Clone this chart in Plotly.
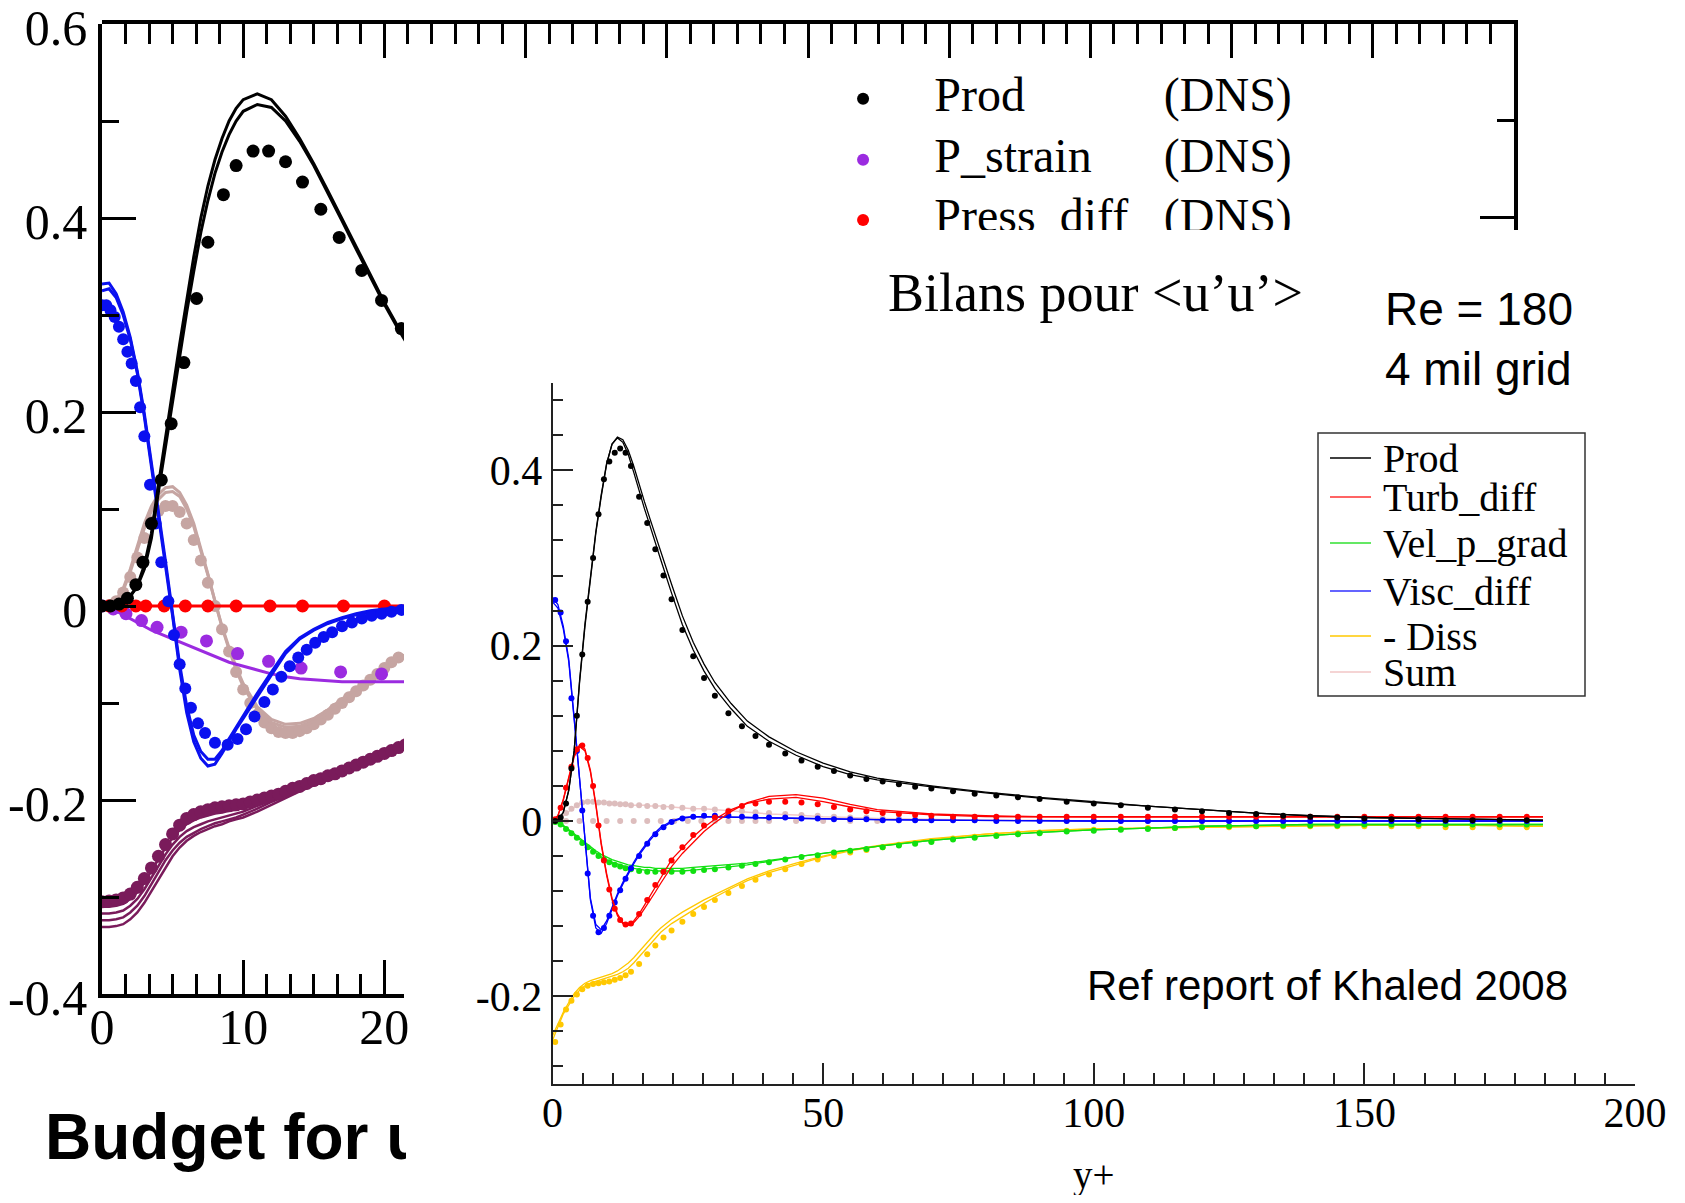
import plotly.graph_objects as go

# page is 1685x1203, the html body adds an 8 px margin
W, H = 1669, 1187
OFF = 8


def fx(px):
    return (px - OFF) / W


def fy(py):
    return 1 - (py - OFF) / H


SERIF = "Liberation Serif"
SANS = "Liberation Sans"

# ---------------- left chart (old DNS/LES budget, only x < 21.4 visible) ----------------
x_l = [0, 0.5, 1, 1.5, 2, 2.5, 3, 3.5, 4, 4.5, 5, 5.5, 6, 6.5, 7, 7.5, 8, 8.5, 9, 9.5, 10,
       11, 12, 13, 14, 15, 16, 17, 18, 19, 20, 21, 22]

prod_les_a = [0, 0, 0.001, 0.004, 0.01, 0.021, 0.042, 0.075, 0.125, 0.175, 0.225, 0.27, 0.315, 0.36, 0.4,
              0.433, 0.46, 0.482, 0.5, 0.513, 0.522, 0.528, 0.522, 0.505, 0.482, 0.456, 0.428, 0.399,
              0.37, 0.341, 0.313, 0.287, 0.263]
prod_les_b = [0, 0, 0.001, 0.004, 0.01, 0.02, 0.038, 0.07, 0.118, 0.165, 0.213, 0.26, 0.303, 0.345, 0.385,
              0.418, 0.446, 0.468, 0.486, 0.5, 0.51, 0.517, 0.514, 0.5, 0.479, 0.454, 0.426, 0.397,
              0.368, 0.339, 0.311, 0.285, 0.261]
prod_dns_x = [0, 0.6, 1.2, 1.8, 2.4, 2.9, 3.5, 4.2, 4.9, 5.8, 6.7, 7.5, 8.6, 9.5, 10.7, 11.8, 13.0,
              14.2, 15.5, 16.8, 18.4, 19.8, 21.2]
prod_dns = [0, 0, 0.002, 0.008, 0.022, 0.045, 0.085, 0.13, 0.188, 0.251, 0.317, 0.375, 0.424, 0.454,
            0.469, 0.469, 0.458, 0.437, 0.409, 0.38, 0.346, 0.315, 0.286]

visc_les_a = [0.325, 0.327, 0.318, 0.3, 0.275, 0.24, 0.195, 0.145, 0.095, 0.045, -0.01, -0.065, -0.11,
              -0.14, -0.157, -0.165, -0.163, -0.152, -0.139, -0.127, -0.116, -0.093, -0.071, -0.049,
              -0.034, -0.025, -0.018, -0.013, -0.009, -0.006, -0.004, -0.002, -0.001]
visc_les_b = [0.332, 0.333, 0.322, 0.303, 0.277, 0.242, 0.198, 0.148, 0.097, 0.046, -0.008, -0.06, -0.103,
              -0.133, -0.15, -0.158, -0.158, -0.149, -0.137, -0.125, -0.113, -0.09, -0.068, -0.047,
              -0.033, -0.024, -0.017, -0.012, -0.008, -0.005, -0.003, -0.002, -0.001]
visc_dns_x = [0, 0.3, 0.6, 0.9, 1.2, 1.5, 1.8, 2.1, 2.4, 2.7, 3.0, 3.4, 3.8, 4.2, 4.7, 5.1, 5.5, 5.9,
              6.3, 6.8, 7.3, 8.0, 8.9, 9.6, 10.2, 10.8, 11.5, 12.1, 12.7, 13.3, 13.9, 14.5, 15.1, 15.7,
              16.3, 17.0, 17.7, 18.4, 19.1, 19.8, 20.5, 21.2]
visc_dns = [0.31, 0.31, 0.305, 0.298, 0.288, 0.275, 0.262, 0.25, 0.232, 0.205, 0.175, 0.125, 0.085,
            0.045, 0.005, -0.03, -0.06, -0.085, -0.105, -0.121, -0.131, -0.141, -0.143, -0.137, -0.127,
            -0.114, -0.099, -0.086, -0.073, -0.062, -0.053, -0.045, -0.038, -0.032, -0.027, -0.021,
            -0.017, -0.013, -0.01, -0.008, -0.006, -0.004]

sum_les_a = [0, 0.001, 0.006, 0.018, 0.038, 0.062, 0.085, 0.103, 0.115, 0.122, 0.123, 0.117, 0.104,
             0.085, 0.06, 0.033, 0.005, -0.022, -0.045, -0.066, -0.083, -0.107, -0.12, -0.125, -0.124,
             -0.119, -0.11, -0.098, -0.087, -0.077, -0.066, -0.055, -0.047]
sum_les_b = [0, 0.001, 0.005, 0.016, 0.035, 0.058, 0.08, 0.098, 0.11, 0.117, 0.118, 0.113, 0.1, 0.082,
             0.058, 0.032, 0.005, -0.021, -0.043, -0.063, -0.08, -0.104, -0.117, -0.122, -0.121, -0.116,
             -0.107, -0.096, -0.085, -0.075, -0.064, -0.054, -0.046]
sum_dns_x = [0, 0.5, 1, 1.5, 2, 2.5, 3, 3.5, 4, 4.5, 5, 5.5, 6, 6.5, 7, 7.5, 8, 8.5, 9, 9.5, 10, 10.5,
             11, 11.5, 12, 12.5, 13, 13.5, 14, 14.5, 15, 15.5, 16, 16.5, 17, 17.5, 18, 18.5, 19, 19.5,
             20, 20.5, 21]
sum_dns = [0, 0.001, 0.005, 0.014, 0.03, 0.05, 0.07, 0.087, 0.098, 0.103, 0.103, 0.097, 0.085, 0.068,
           0.047, 0.024, 0.0, -0.024, -0.047, -0.068, -0.086, -0.1, -0.112, -0.12, -0.126, -0.13, -0.131,
           -0.131, -0.129, -0.126, -0.122, -0.117, -0.112, -0.106, -0.1, -0.094, -0.088, -0.082, -0.076,
           -0.07, -0.064, -0.058, -0.053]

press_les_x = [0, 5, 10, 15, 22]
press_les = [0, 0, 0, 0, 0]
press_dns_x = [0.5, 1.4, 2.4, 3.1, 4.4, 5.9, 7.5, 9.5, 11.9, 14.2, 17.1, 20.0]
press_dns = [0, 0, 0, 0, 0, 0, 0, 0, 0, 0, 0, 0]

pstrain_les = [0, -0.002, -0.005, -0.009, -0.013, -0.017, -0.021, -0.025, -0.028, -0.031, -0.034, -0.037,
               -0.04, -0.043, -0.046, -0.049, -0.052, -0.055, -0.058, -0.06, -0.062, -0.066, -0.07,
               -0.073, -0.075, -0.076, -0.077, -0.078, -0.078, -0.078, -0.078, -0.078, -0.078]
pstrain_dns_x = [0, 0.8, 1.7, 2.8, 3.9, 5.6, 7.4, 9.6, 11.8, 14.1, 16.9, 19.8]
pstrain_dns = [0, -0.003, -0.008, -0.015, -0.022, -0.027, -0.036, -0.049, -0.057, -0.064, -0.068, -0.07]

diss_les_1 = [-0.31, -0.31, -0.309, -0.307, -0.302, -0.295, -0.285, -0.273, -0.26, -0.249, -0.239, -0.231,
              -0.225, -0.221, -0.218, -0.216, -0.214, -0.213, -0.211, -0.21, -0.208, -0.203, -0.198,
              -0.193, -0.187, -0.181, -0.176, -0.17, -0.164, -0.158, -0.152, -0.146, -0.14]
diss_les_2 = [-0.317, -0.317, -0.316, -0.314, -0.309, -0.302, -0.292, -0.28, -0.267, -0.256, -0.246,
              -0.238, -0.232, -0.228, -0.225, -0.222, -0.22, -0.218, -0.216, -0.214, -0.212, -0.206, -0.2,
              -0.194, -0.188, -0.182, -0.177, -0.171, -0.165, -0.159, -0.153, -0.147, -0.141]
diss_les_3 = [-0.324, -0.324, -0.323, -0.321, -0.316, -0.309, -0.299, -0.287, -0.274, -0.262, -0.252,
              -0.244, -0.238, -0.234, -0.23, -0.227, -0.224, -0.222, -0.22, -0.218, -0.215, -0.209,
              -0.202, -0.196, -0.19, -0.184, -0.178, -0.172, -0.166, -0.16, -0.154, -0.148, -0.142]
diss_les_4 = [-0.331, -0.331, -0.33, -0.328, -0.323, -0.316, -0.306, -0.294, -0.281, -0.269, -0.258,
              -0.249, -0.242, -0.237, -0.233, -0.23, -0.227, -0.225, -0.222, -0.22, -0.218, -0.212,
              -0.205, -0.198, -0.191, -0.185, -0.179, -0.173, -0.167, -0.161, -0.155, -0.149, -0.143]
diss_dns_x = [0, 0.5, 1, 1.5, 2, 2.5, 3, 3.5, 4, 4.5, 5, 5.5, 6, 6.5, 7, 7.5, 8, 8.5, 9, 9.5, 10, 10.5,
              11, 11.5, 12, 12.5, 13, 13.5, 14, 14.5, 15, 15.5, 16, 16.5, 17, 17.5, 18, 18.5, 19, 19.5,
              20, 20.5, 21, 21.5]
diss_dns = [-0.305, -0.304, -0.303, -0.301, -0.297, -0.29, -0.281, -0.27, -0.258, -0.246, -0.235, -0.226,
            -0.219, -0.215, -0.212, -0.21, -0.208, -0.207, -0.206, -0.205, -0.204, -0.202, -0.2, -0.198,
            -0.196, -0.194, -0.191, -0.188, -0.186, -0.183, -0.18, -0.178, -0.175, -0.173, -0.17, -0.167,
            -0.164, -0.161, -0.158, -0.155, -0.152, -0.149, -0.146, -0.143]

# legend of the left chart (partly hidden under the right chart)
strip_names = ["Prod", "P_strain", "Press_diff"]
strip_colors = ["#000000", "#9B2BE0", "#FF0000"]
strip_rows = [0.523, 0.460, 0.398]

# ---------------- right chart (Re = 180, 4 mil grid) ----------------
x_r = [0, 1, 2, 3, 4, 5, 6, 7, 8, 9, 10, 11, 12, 13, 14, 15, 16, 17, 18, 19, 20, 22, 24, 26, 28, 30,
       33, 36, 40, 45, 50, 55, 60, 70, 80, 90, 100, 110, 120, 130, 140, 150, 160, 170, 183]
dns_x_r = [0.5, 1.5, 2.5, 3.5, 4.5, 5.5, 6.5, 7.5, 8.5, 9.5, 10.5, 11.5, 12.5, 13.5, 14.5, 16, 17.5, 19,
           20.5, 22, 24, 26, 28, 30, 32.5, 35, 37.5, 40, 43, 46, 49, 52, 55, 58, 61, 64, 67, 70, 74, 78,
           82, 86, 90, 95, 100, 105, 110, 115, 120, 125, 130, 135, 140, 145, 150, 155, 160, 165, 170, 175,
           180]

prod_r_a = [0, 0.001, 0.01, 0.035, 0.08, 0.16, 0.225, 0.28, 0.33, 0.372, 0.408, 0.43, 0.437, 0.432, 0.418,
            0.398, 0.376, 0.356, 0.337, 0.317, 0.298, 0.26, 0.224, 0.195, 0.171, 0.151, 0.128, 0.108,
            0.091, 0.075, 0.062, 0.053, 0.047, 0.039, 0.032, 0.026, 0.021, 0.017, 0.013, 0.009, 0.006,
            0.004, 0.003, 0.002, 0.001]
prod_r_b = [0, 0.001, 0.01, 0.035, 0.08, 0.158, 0.222, 0.278, 0.328, 0.37, 0.407, 0.43, 0.438, 0.435,
            0.423, 0.405, 0.384, 0.364, 0.345, 0.326, 0.307, 0.27, 0.234, 0.204, 0.179, 0.158, 0.134,
            0.114, 0.096, 0.079, 0.066, 0.056, 0.049, 0.04, 0.033, 0.027, 0.022, 0.017, 0.013, 0.009,
            0.006, 0.004, 0.003, 0.002, 0.001]
prod_r_dns = [0.0, 0.004, 0.02, 0.06, 0.12, 0.19, 0.25, 0.3, 0.35, 0.39, 0.41, 0.42, 0.425, 0.42, 0.405,
              0.37, 0.34, 0.31, 0.28, 0.253, 0.218, 0.188, 0.163, 0.143, 0.123, 0.108, 0.097, 0.087,
              0.077, 0.069, 0.062, 0.057, 0.052, 0.048, 0.045, 0.042, 0.039, 0.037, 0.034, 0.031, 0.029,
              0.027, 0.025, 0.022, 0.02, 0.018, 0.015, 0.013, 0.011, 0.009, 0.008, 0.006, 0.005, 0.004,
              0.003, 0.002, 0.002, 0.001, 0.001, 0.001, 0.001]

turb_r_a = [0, 0.006, 0.025, 0.05, 0.075, 0.087, 0.082, 0.058, 0.02, -0.025, -0.06, -0.088, -0.106,
            -0.116, -0.118, -0.114, -0.106, -0.096, -0.086, -0.075, -0.065, -0.044, -0.031, -0.018,
            -0.007, 0.002, 0.013, 0.02, 0.025, 0.027, 0.022, 0.016, 0.011, 0.007, 0.005, 0.0045, 0.0045,
            0.0045, 0.0045, 0.0045, 0.0045, 0.0045, 0.0045, 0.0045, 0.0045]
turb_r_b = [0, 0.006, 0.024, 0.048, 0.073, 0.085, 0.08, 0.056, 0.018, -0.027, -0.062, -0.09, -0.108,
            -0.117, -0.119, -0.116, -0.109, -0.1, -0.091, -0.081, -0.071, -0.052, -0.037, -0.024,
            -0.012, -0.002, 0.011, 0.021, 0.028, 0.03, 0.026, 0.019, 0.013, 0.008, 0.006, 0.005, 0.005,
            0.005, 0.005, 0.005, 0.005, 0.005, 0.005, 0.005, 0.005]
turb_r_dns = [0.002, 0.015, 0.038, 0.062, 0.082, 0.086, 0.072, 0.04, -0.005, -0.045, -0.078, -0.1,
              -0.113, -0.118, -0.117, -0.106, -0.09, -0.073, -0.058, -0.045, -0.03, -0.016, -0.005, 0.004,
              0.011, 0.017, 0.02, 0.022, 0.022, 0.021, 0.019, 0.016, 0.013, 0.011, 0.009, 0.008, 0.007,
              0.006, 0.005, 0.005, 0.005, 0.005, 0.005, 0.005, 0.005, 0.005, 0.005, 0.005, 0.005, 0.005,
              0.005, 0.005, 0.005, 0.005, 0.005, 0.005, 0.005, 0.005, 0.005, 0.005, 0.005]

vel_r_a = [0, -0.002, -0.006, -0.011, -0.016, -0.022, -0.027, -0.032, -0.037, -0.041, -0.044, -0.047,
           -0.049, -0.051, -0.053, -0.054, -0.055, -0.056, -0.056, -0.057, -0.057, -0.057, -0.057,
           -0.056, -0.055, -0.054, -0.052, -0.05, -0.046, -0.041, -0.037, -0.033, -0.029, -0.022,
           -0.017, -0.013, -0.01, -0.008, -0.006, -0.005, -0.004, -0.004, -0.004, -0.004, -0.004]
vel_r_b = [0, -0.002, -0.005, -0.01, -0.015, -0.02, -0.025, -0.03, -0.034, -0.038, -0.041, -0.044,
           -0.046, -0.048, -0.05, -0.051, -0.052, -0.053, -0.053, -0.054, -0.054, -0.054, -0.054,
           -0.053, -0.052, -0.051, -0.05, -0.048, -0.045, -0.041, -0.037, -0.033, -0.029, -0.022,
           -0.017, -0.013, -0.01, -0.008, -0.006, -0.005, -0.004, -0.004, -0.004, -0.004, -0.004]
vel_r_dns = [-0.001, -0.004, -0.009, -0.014, -0.019, -0.025, -0.03, -0.035, -0.04, -0.044, -0.047, -0.05,
             -0.052, -0.054, -0.055, -0.057, -0.058, -0.058, -0.058, -0.058, -0.058, -0.057, -0.056,
             -0.055, -0.053, -0.051, -0.049, -0.047, -0.044, -0.041, -0.039, -0.036, -0.034, -0.032,
             -0.03, -0.028, -0.026, -0.024, -0.021, -0.019, -0.017, -0.015, -0.014, -0.012, -0.011,
             -0.01, -0.009, -0.008, -0.007, -0.006, -0.006, -0.005, -0.005, -0.005, -0.004, -0.004,
             -0.004, -0.004, -0.004, -0.004, -0.004]

visc_r_a = [0.255, 0.247, 0.222, 0.185, 0.118, 0.05, -0.025, -0.09, -0.122, -0.128, -0.117, -0.1, -0.085,
            -0.072, -0.06, -0.049, -0.039, -0.03, -0.022, -0.015, -0.009, -0.001, 0.003, 0.005, 0.005,
            0.005, 0.0045, 0.004, 0.0035, 0.003, 0.0025, 0.002, 0.0015, 0.001, 0.0005, 0, 0, 0, 0, 0, 0,
            0, 0, 0, 0]
visc_r_b = [0.25, 0.243, 0.219, 0.182, 0.116, 0.048, -0.027, -0.088, -0.118, -0.124, -0.114, -0.098,
            -0.083, -0.07, -0.058, -0.047, -0.037, -0.028, -0.02, -0.013, -0.007, 0.0, 0.004, 0.005,
            0.005, 0.005, 0.0045, 0.004, 0.0035, 0.003, 0.0025, 0.002, 0.0015, 0.001, 0.0005, 0, 0, 0, 0,
            0, 0, 0, 0, 0, 0]
visc_r_dns = [0.252, 0.238, 0.205, 0.14, 0.08, 0.012, -0.06, -0.108, -0.127, -0.122, -0.108, -0.093,
              -0.079, -0.066, -0.054, -0.04, -0.026, -0.015, -0.007, -0.001, 0.003, 0.005, 0.006, 0.006,
              0.006, 0.005, 0.005, 0.004, 0.004, 0.003, 0.003, 0.002, 0.002, 0.002, 0.001, 0.001, 0.001,
              0.001, 0.001, 0.001, 0, 0, 0, 0, 0, 0, 0, 0, 0, 0, 0, 0, 0, 0, 0, 0, 0, 0, 0, 0, 0]

diss_r_a = [-0.25, -0.235, -0.22, -0.21, -0.2, -0.193, -0.188, -0.185, -0.183, -0.181, -0.179, -0.177,
            -0.175, -0.172, -0.168, -0.162, -0.155, -0.147, -0.14, -0.133, -0.127, -0.117, -0.109,
            -0.101, -0.094, -0.087, -0.077, -0.068, -0.059, -0.05, -0.041, -0.034, -0.029, -0.021,
            -0.015, -0.011, -0.009, -0.008, -0.007, -0.006, -0.0055, -0.005, -0.005, -0.005, -0.006]
diss_r_b = [-0.245, -0.232, -0.218, -0.207, -0.197, -0.19, -0.185, -0.182, -0.18, -0.178, -0.176, -0.174,
            -0.171, -0.167, -0.162, -0.156, -0.149, -0.141, -0.134, -0.128, -0.122, -0.112, -0.104,
            -0.097, -0.09, -0.084, -0.075, -0.066, -0.057, -0.048, -0.04, -0.033, -0.028, -0.02, -0.015,
            -0.011, -0.009, -0.008, -0.007, -0.006, -0.0055, -0.005, -0.005, -0.005, -0.006]
diss_r_dns = [-0.252, -0.232, -0.215, -0.205, -0.198, -0.192, -0.188, -0.186, -0.185, -0.184, -0.183,
              -0.181, -0.179, -0.176, -0.172, -0.163, -0.152, -0.142, -0.133, -0.125, -0.115, -0.106,
              -0.098, -0.09, -0.082, -0.074, -0.067, -0.061, -0.055, -0.049, -0.044, -0.04, -0.036,
              -0.033, -0.03, -0.027, -0.025, -0.023, -0.02, -0.018, -0.016, -0.014, -0.013, -0.011, -0.01,
              -0.009, -0.008, -0.008, -0.007, -0.007, -0.006, -0.006, -0.006, -0.006, -0.006, -0.006,
              -0.006, -0.007, -0.007, -0.007, -0.007]

sum_r = [0, 0.002, 0.006, 0.011, 0.016, 0.02, 0.022, 0.022, 0.022, 0.021, 0.021, 0.02, 0.02, 0.019, 0.019,
         0.018, 0.018, 0.018, 0.017, 0.017, 0.017, 0.016, 0.015, 0.014, 0.014, 0.013, 0.011, 0.01, 0.008,
         0.007, 0.005, 0.004, 0.003, 0.002, 0.001, 0.001, 0, 0, 0, 0, 0, 0, 0, 0, 0]
sum_r_dns = [0.001, 0.004, 0.009, 0.014, 0.018, 0.021, 0.022, 0.022, 0.021, 0.021, 0.02, 0.02, 0.019,
             0.019, 0.018, 0.018, 0.017, 0.017, 0.016, 0.016, 0.015, 0.014, 0.014, 0.013, 0.012, 0.011,
             0.01, 0.009, 0.008, 0.007, 0.006, 0.005, 0.004, 0.004, 0.003, 0.003, 0.002, 0.002, 0.002,
             0.001, 0.001, 0.001, 0.001, 0, 0, 0, 0, 0, 0, 0, 0, 0, 0, 0, 0, 0, 0, 0, 0, 0, 0]
sum_r_zero_x = [0, 2.5, 5, 7.5, 10, 12.5, 15, 17.5, 20, 22.5, 25, 27.5, 30, 32.5, 35, 37.5, 40, 45, 50,
                55, 60]
sum_r_zero = [0, 0, 0, 0, 0, 0, 0, 0, 0, 0, 0, 0, 0, 0, 0, 0, 0, 0, 0, 0, 0]

legend_names = ["Prod", "Turb_diff", "Vel_p_grad", "Visc_diff", "- Diss", "Sum"]
legend_colors = ["#000000", "#FF3030", "#30E030", "#3030FF", "#FFC800", "#F2C6C6"]

# ---------------- build figure ----------------
fig = go.Figure()


def line(x, y, color, width, xa, ya):
    fig.add_trace(go.Scatter(x=x, y=y, mode="lines", line=dict(color=color, width=width),
                             xaxis=xa, yaxis=ya, showlegend=False, hoverinfo="skip"))


def dots(x, y, color, size, xa, ya):
    fig.add_trace(go.Scatter(x=x, y=y, mode="markers", marker=dict(color=color, size=size, line_width=0),
                             xaxis=xa, yaxis=ya, showlegend=False, hoverinfo="skip"))


# left chart
DP = "#7A1B5B"
for d in [diss_les_4, diss_les_3, diss_les_2, diss_les_1]:
    line(x_l, d, DP, 2.5, "x", "y")
dots(diss_dns_x, diss_dns, DP, 13, "x", "y")
ROSY = "#C6A5A2"
dots(sum_dns_x, sum_dns, ROSY, 12, "x", "y")
line(x_l, sum_les_a, ROSY, 3, "x", "y")
line(x_l, sum_les_b, ROSY, 3, "x", "y")
PURP = "#9B2BE0"
line(x_l, pstrain_les, PURP, 3, "x", "y")
dots(pstrain_dns_x, pstrain_dns, PURP, 13, "x", "y")
line(press_les_x, press_les, "#FF0000", 3, "x", "y")
dots(press_dns_x, press_dns, "#FF0000", 13, "x", "y")
BLUE = "#0A10F0"
line(x_l, visc_les_a, BLUE, 3, "x", "y")
line(x_l, visc_les_b, BLUE, 3, "x", "y")
dots(visc_dns_x, visc_dns, BLUE, 12, "x", "y")
line(x_l, prod_les_a, "#000000", 3, "x", "y")
line(x_l, prod_les_b, "#000000", 3, "x", "y")
dots(prod_dns_x, prod_dns, "#000000", 13, "x", "y")

# left chart's own legend, clipped by the strip subplot
fig.add_trace(go.Scatter(x=[53.9] * 3, y=strip_rows, mode="markers",
                         marker=dict(color=strip_colors, size=12), xaxis="x2", yaxis="y2",
                         showlegend=False, hoverinfo="skip", cliponaxis=True))
fig.add_trace(go.Scatter(x=[58.95] * 3, y=strip_rows, mode="text", text=strip_names,
                         textposition="middle right", textfont=dict(family=SERIF, size=48, color="black"),
                         xaxis="x2", yaxis="y2", showlegend=False, hoverinfo="skip", cliponaxis=True))
fig.add_trace(go.Scatter(x=[75.2] * 3, y=strip_rows, mode="text", text=["(DNS)"] * 3,
                         textposition="middle right", textfont=dict(family=SERIF, size=48, color="black"),
                         xaxis="x2", yaxis="y2", showlegend=False, hoverinfo="skip", cliponaxis=True))

# right chart
line(x_r, sum_r, "#F2C8C8", 1.5, "x3", "y3")
dots(dns_x_r, sum_r_dns, "#DDBDBD", 6, "x3", "y3")
dots(sum_r_zero_x, sum_r_zero, "#DDBDBD", 6, "x3", "y3")
GOLD = "#FFC800"
line(x_r, diss_r_a, GOLD, 1.3, "x3", "y3")
line(x_r, diss_r_b, GOLD, 1.3, "x3", "y3")
dots(dns_x_r, diss_r_dns, GOLD, 6, "x3", "y3")
GREEN = "#10E010"
line(x_r, vel_r_a, GREEN, 1.3, "x3", "y3")
line(x_r, vel_r_b, GREEN, 1.3, "x3", "y3")
dots(dns_x_r, vel_r_dns, GREEN, 6, "x3", "y3")
line(x_r, visc_r_a, "#0000FF", 1.3, "x3", "y3")
line(x_r, visc_r_b, "#0000FF", 1.3, "x3", "y3")
dots(dns_x_r, visc_r_dns, "#0000FF", 6, "x3", "y3")
line(x_r, turb_r_a, "#FF0000", 1.3, "x3", "y3")
line(x_r, turb_r_b, "#FF0000", 1.3, "x3", "y3")
dots(dns_x_r, turb_r_dns, "#FF0000", 6, "x3", "y3")
line(x_r, prod_r_a, "#000000", 1.3, "x3", "y3")
line(x_r, prod_r_b, "#000000", 1.3, "x3", "y3")
dots(dns_x_r, prod_r_dns, "#000000", 6, "x3", "y3")

# ---------------- axes ----------------
thick = dict(showgrid=False, zeroline=False, showline=True, linecolor="black", linewidth=3.5,
             ticks="inside", tickcolor="black", tickwidth=3, ticklen=34, automargin=False,
             ticklabeloverflow="allow", tickfont=dict(family=SERIF, size=50, color="black"))
thin = dict(showgrid=False, zeroline=False, showline=True, linecolor="#222222", linewidth=1.8,
            ticks="inside", tickcolor="#222222", tickwidth=1.5, ticklen=21, automargin=False,
            ticklabeloverflow="allow", tickfont=dict(family=SERIF, size=42, color="black"))

fig.update_layout(
    xaxis=dict(thick, domain=[fx(102), fx(404)], range=[0, 21.39], anchor="y",
               tickvals=[0, 10, 20], ticktext=["0", "10", "20"], ticklabelstandoff=-14,
               minor=dict(ticks="inside", dtick=10 / 6, tick0=0, ticklen=20, tickwidth=3,
                          tickcolor="black", showgrid=False)),
    yaxis=dict(thick, domain=[fy(994), fy(24)], range=[-0.4, 0.6], anchor="x",
               tickvals=[-0.4, -0.2, 0, 0.2, 0.4, 0.6],
               ticktext=["-0.4", "-0.2", "0", "0.2", "0.4", "0.6"], ticklabelstandoff=1,
               ticklabelshift=3,
               minor=dict(ticks="inside", dtick=0.1, tick0=0, ticklen=17, tickwidth=3,
                          tickcolor="black", showgrid=False)),
    xaxis2=dict(thick, domain=[fx(102), fx(1514)], range=[0, 100], anchor="y2", side="top",
                tickvals=[0, 10, 20, 30, 40, 50, 60, 70, 80, 90, 100], showticklabels=False,
                minor=dict(ticks="inside", dtick=10 / 6, tick0=0, ticklen=20, tickwidth=3,
                           tickcolor="black", showgrid=False)),
    yaxis2=dict(thick, domain=[fy(230), fy(24)], range=[0.3876, 0.6], anchor="x2", side="right",
                tickvals=[0.4, 0.6], showticklabels=False,
                minor=dict(ticks="inside", dtick=0.1, tick0=0, ticklen=17, tickwidth=3,
                           tickcolor="black", showgrid=False)),
    xaxis3=dict(thin, domain=[fx(552.5), fx(1635)], range=[0, 200], anchor="y3",
                tickvals=[0, 50, 100, 150, 200], ticktext=["0", "50", "100", "150", "200"],
                ticklabelstandoff=-9,
                minor=dict(ticks="inside", dtick=50 / 9, tick0=0, ticklen=11, tickwidth=1.5,
                           tickcolor="#222222", showgrid=False)),
    yaxis3=dict(thin, domain=[fy(1084), fy(382.7)], range=[-0.3, 0.5], anchor="x3",
                tickvals=[-0.2, 0, 0.2, 0.4], ticktext=["-0.2", "0", "0.2", "0.4"],
                ticklabelstandoff=0,
                minor=dict(ticks="inside", dtick=0.04, tick0=0, ticklen=11, tickwidth=1.5,
                           tickcolor="#222222", showgrid=False)),
)

# ---------------- texts ----------------
ann = [
    dict(x=fx(1095), y=fy(293), text="Bilans pour &lt;u’u’&gt;", xanchor="center", yanchor="middle",
         font=dict(family=SERIF, size=54, color="black")),
    dict(x=fx(1383), y=fy(339), text="Re = 180<br>4 mil grid", xanchor="left", yanchor="middle",
         align="left", font=dict(family=SANS, size=46, color="black")),
    dict(x=fx(1085), y=fy(985), text="Ref report of Khaled 2008", xanchor="left", yanchor="middle",
         font=dict(family=SANS, size=42, color="black")),
    dict(x=fx(43), y=fy(1137), text="<b>Budget for u’u’</b>", xanchor="left", yanchor="middle",
         align="left", width=361, font=dict(family=SANS, size=64, color="black")),
    dict(x=fx(1094), y=fy(1175), text="y+", xanchor="center", yanchor="middle",
         font=dict(family=SERIF, size=39, color="black")),
]

# legend of the right chart
leg_rows = [458, 497, 543, 591, 636, 672]
shapes = [dict(type="rect", xref="paper", yref="paper", x0=fx(1318), x1=fx(1585), y0=fy(696), y1=fy(433),
               line=dict(color="#333333", width=1.5))]
for name, col, ry in zip(legend_names, legend_colors, leg_rows):
    shapes.append(dict(type="line", xref="paper", yref="paper", x0=fx(1330), x1=fx(1371), y0=fy(ry),
                       y1=fy(ry), line=dict(color=col, width=1.5)))
    ann.append(dict(x=fx(1381), y=fy(ry), text=name, xanchor="left", yanchor="middle",
                    font=dict(family=SERIF, size=40, color="black")))

for a in ann:
    a.update(xref="paper", yref="paper", showarrow=False)

fig.update_layout(
    width=W, height=H,
    margin=dict(l=0, r=0, t=0, b=0, pad=0),
    paper_bgcolor="white",
    plot_bgcolor="rgba(0,0,0,0)",
    showlegend=False,
    annotations=ann,
    shapes=shapes,
)

fig.write_html("out.html")
